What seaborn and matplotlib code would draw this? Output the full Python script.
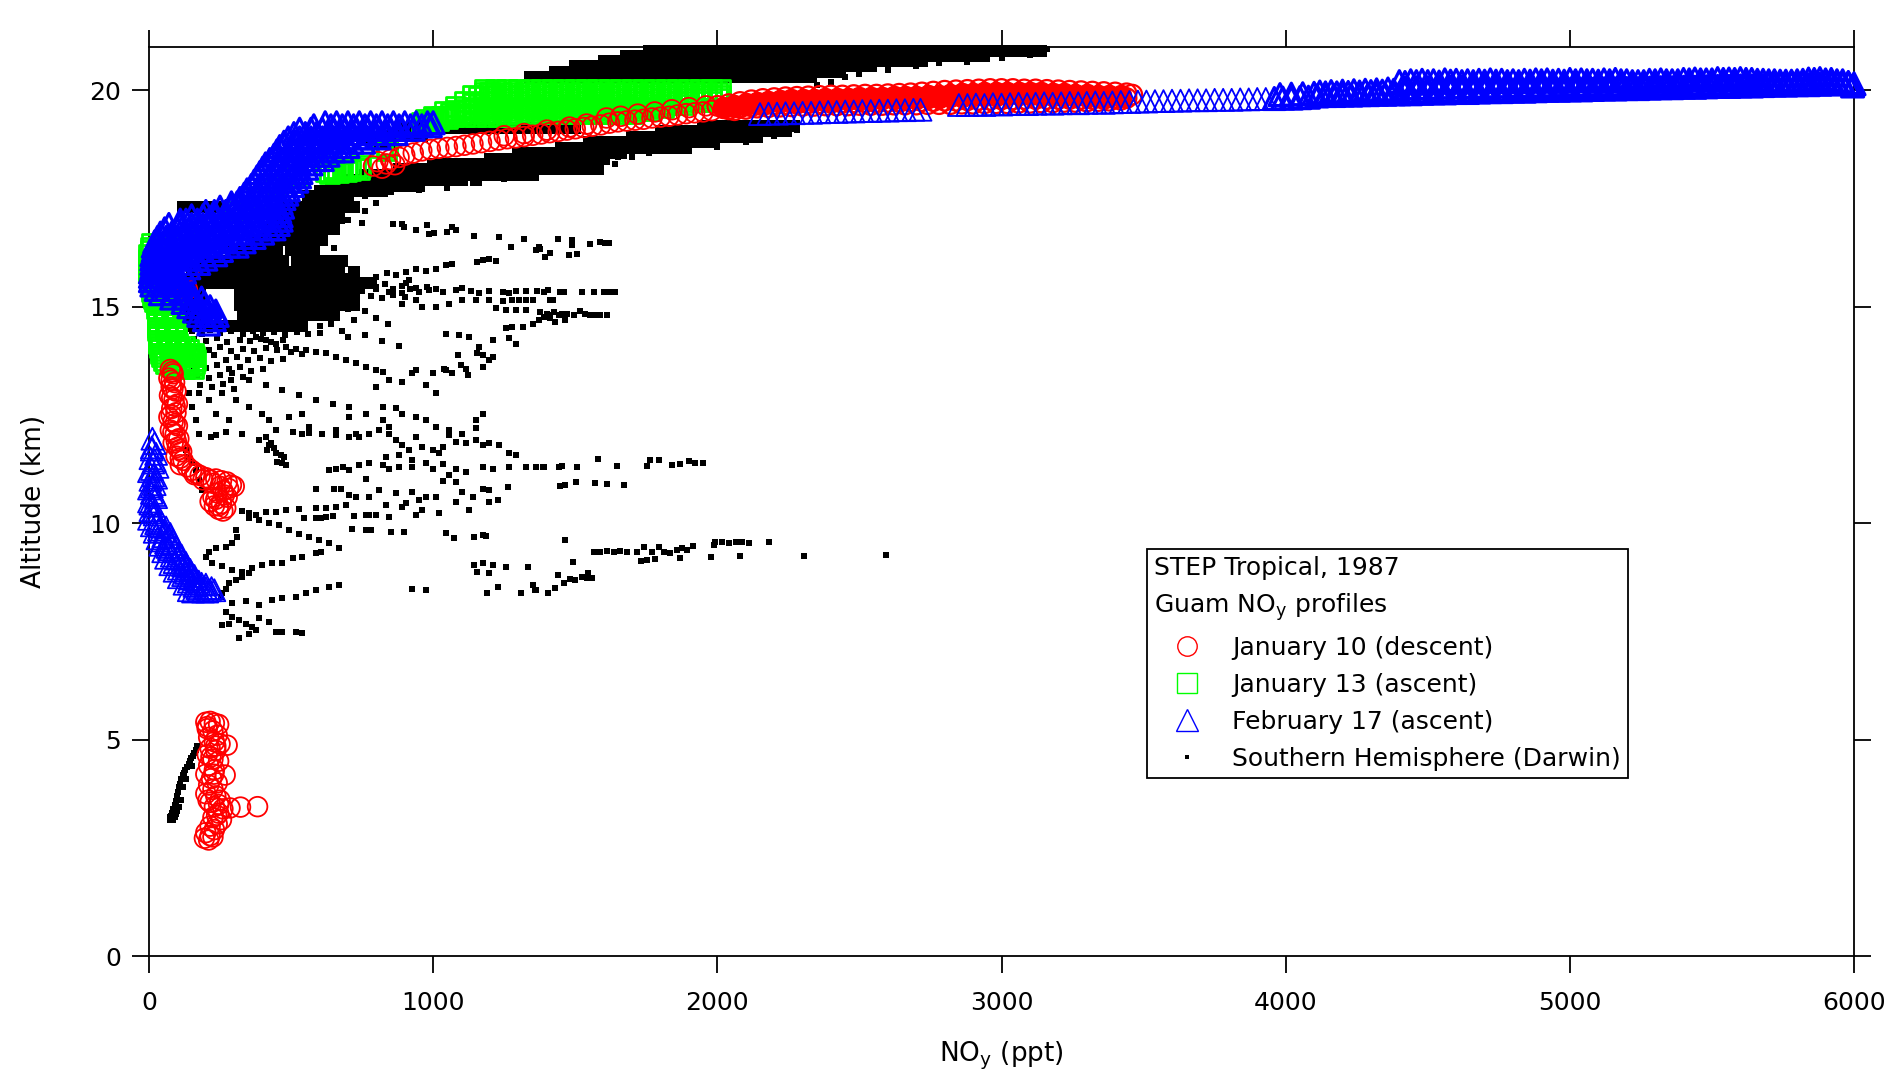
import matplotlib
matplotlib.use("Agg")
import matplotlib.pyplot as plt
from matplotlib.lines import Line2D
import seaborn as sns
import pandas as pd

# ---------------- data (NOy in ppt, altitude in km) ----------------
x_ticks = [0, 1000, 2000, 3000, 4000, 5000, 6000]
y_ticks = [0, 5, 10, 15, 20]
x_label = "NO$_y$ (ppt)"
y_label = "Altitude (km)"
legend_title = "STEP Tropical, 1987\nGuam NO$_y$ profiles"
series_labels = ["January 10 (descent)", "January 13 (ascent)",
                 "February 17 (ascent)", "Southern Hemisphere (Darwin)"]

# January 10 (descent) -- red circles, (NOy, alt) pairs
jan10_upper = [(790,18.25),(805,18.35),(820,18.2),(835,18.3),(850,18.4),(865,18.28),(880,18.45),(900,18.5),
    (930,18.55),(960,18.6),(990,18.63),(1020,18.66),(1050,18.68),(1080,18.7),(1110,18.73),(1140,18.76),
    (1170,18.79),(1200,18.82),(1230,18.85),(1260,18.88),(1290,18.9),(1320,18.93),(1350,18.96),(1380,18.99),
    (1410,19.02),(1440,19.05),(1470,19.08),(1500,19.11),(1530,19.14),(1560,19.17),(1590,19.2),(1620,19.24),
    (1650,19.27),(1680,19.29),(1710,19.31),(1740,19.33),(1770,19.36),(1800,19.38),(1830,19.4),(1860,19.43),
    (1890,19.46),(1920,19.48),(1950,19.5),(1980,19.53),(1610,19.36),(1660,19.4),(1720,19.45),(1780,19.5),
    (1840,19.55),(1900,19.6),(1960,19.64),(1250,18.95),(1320,19.0),(1400,19.08),(1480,19.15),(1540,19.22)]
# band edges (outer rows of the dense 2000-3465 ppt band)
jan10_band_edge = [(2000,19.64),(2040,19.68),(2080,19.73),(2120,19.77),(2160,19.8),(2200,19.82),(2240,19.84),
    (2280,19.85),(2320,19.86),(2360,19.87),(2400,19.88),(2440,19.88),(2480,19.89),(2520,19.9),(2560,19.9),
    (2600,19.91),(2640,19.92),(2680,19.93),(2720,19.95),(2760,19.97),(2800,19.99),(2840,20.0),(2880,20.01),
    (2920,20.02),(2960,20.03),(3000,20.03),(3040,20.03),(3080,20.02),(3120,20.02),(3160,20.01),(3200,20.0),
    (3240,19.99),(3280,19.98),(3320,19.97),(3360,19.96),(3400,19.95),(3440,19.93),(3460,19.9),
    (2040,19.56),(2080,19.6),(2120,19.63),(2160,19.65),(2200,19.67),(2240,19.68),(2280,19.69),(2320,19.7),
    (2360,19.7),(2400,19.71),(2440,19.71),(2480,19.72),(2520,19.72),(2560,19.72),(2600,19.73),(2640,19.73),
    (2680,19.74),(2720,19.75),(2760,19.75),(2800,19.76),(2840,19.76),(2880,19.77),(2920,19.78),(2960,19.78),
    (3000,19.79),(3040,19.79),(3080,19.8),(3120,19.8),(3160,19.8),(3200,19.8),(3240,19.8),(3280,19.8),
    (3320,19.8),(3360,19.8),(3400,19.81),(3440,19.82),
    (2060,19.54),(2100,19.57),(2140,19.6),(2180,19.61),(2220,19.62),(2260,19.63),(2300,19.64),(2340,19.64),
    (2380,19.65),(2420,19.65),(2460,19.65),(2500,19.66),(2540,19.66),(2580,19.66),(2620,19.67),(2660,19.67),
    (2700,19.67),(2740,19.68),(2780,19.68),(2820,19.68),(2860,19.69),(2900,19.69),(2940,19.7),(2980,19.7),
    (3020,19.7),(3060,19.71),(3100,19.71),(3140,19.72),(3180,19.72),(3220,19.73),(3260,19.73),(3300,19.74),
    (3340,19.75),(3380,19.76),(3420,19.78)]
# band core (where the circles overlap into a solid band)
jan10_band_core = [(2020,19.62),(2060,19.65),(2100,19.7),(2140,19.73),(2180,19.76),(2220,19.78),(2260,19.79),
    (2300,19.8),(2340,19.81),(2380,19.82),(2420,19.82),(2460,19.83),(2500,19.84),(2540,19.84),(2580,19.85),
    (2620,19.86),(2660,19.86),(2700,19.87),(2740,19.89),(2780,19.9),(2820,19.92),(2860,19.93),(2900,19.94),
    (2940,19.95),(2980,19.95),(3020,19.96),(3060,19.96),(3100,19.95),(3140,19.95),(3180,19.94),(3220,19.93),
    (3260,19.92),(3300,19.91),(3340,19.9),(3380,19.9),(3420,19.89),
    (2020,19.58),(2060,19.62),(2100,19.66),(2140,19.69),(2180,19.71),(2220,19.73),(2260,19.74),(2300,19.75),
    (2340,19.76),(2380,19.76),(2420,19.77),(2460,19.77),(2500,19.78),(2540,19.78),(2580,19.79),(2620,19.8),
    (2660,19.8),(2700,19.81),(2740,19.82),(2780,19.83),(2820,19.84),(2860,19.85),(2900,19.86),(2940,19.87),
    (2980,19.87),(3020,19.88),(3060,19.88),(3100,19.88),(3140,19.87),(3180,19.87),(3220,19.86),(3260,19.86),
    (3300,19.85),(3340,19.85),(3380,19.85),(3420,19.84)]
jan10_mid = [(140,15.8),(135,15.4),
    (75,13.55),(85,13.45),(70,13.35),(90,13.25),(78,13.15),(95,13.05),(72,12.95),(88,12.85),(100,12.75),
    (80,12.65),(95,12.55),(70,12.45),(85,12.35),(100,12.25),(75,12.15),(92,12.05),(105,11.95),(85,11.85),
    (100,11.75),(115,11.65),(95,11.55),(120,11.45),(110,11.35),(135,11.3),(150,11.22),(165,11.15),(180,11.1),
    (200,11.05),(215,11.0),(235,11.02),(255,10.98),(275,10.95),(290,10.88),(300,10.85),(280,10.8),(260,10.75),
    (240,10.7),(225,10.6),(215,10.5),(230,10.4),(245,10.32),(260,10.28),(270,10.35),(255,10.45),(275,10.6),
    (82,13.5),(78,13.3),(84,13.1),(80,12.9),(92,12.7),(78,12.5),(92,12.3),(84,12.1),(96,11.9),(108,11.7),
    (110,11.5),(160,11.12),(190,11.0),(225,10.92),(250,10.85),(265,10.65),(235,10.55),(245,10.4)]
jan10_low = [(200,5.4),(215,5.42),(230,5.38),(245,5.35),(205,5.25),(225,5.2),(240,5.1),(210,5.05),(230,4.95),
    (250,4.9),(275,4.87),(215,4.8),(235,4.75),(205,4.65),(225,4.55),(245,4.5),(210,4.4),(230,4.3),(200,4.2),
    (220,4.1),(268,4.18),(240,4.0),(210,3.95),(225,3.85),(200,3.75),(235,3.7),(250,3.6),(215,3.55),(230,3.45),
    (260,3.4),(285,3.42),(322,3.44),(382,3.45),(245,3.3),(225,3.2),(255,3.15),(240,3.05),(215,3.0),(230,2.92),
    (200,2.85),(215,2.78),(195,2.72),(210,2.68),(225,2.75),(245,3.5),(205,5.3),(235,4.85),(218,4.6),(228,4.2),
    (208,3.6),(238,3.25)]

# January 13 (ascent) -- green squares; rows are (altitude, [NOy ...])
jan13_lower_rows = [(16.45,[10]),(16.37,[5]),(16.3,[5]),(16.2,[0]),(16.1,[0]),(16.02,[5,15]),(15.95,[0,15]),
    (15.87,[0,20]),(15.8,[0,20]),(15.72,[5,20]),(15.65,[5,25]),(15.57,[5,28]),(15.5,[5,30]),(15.42,[8,32]),
    (15.35,[10,35]),(15.27,[12,38,55]),(15.2,[15,40,60]),(15.12,[20,45,68]),(15.05,[25,50,75]),
    (14.97,[28,52,80]),(14.9,[30,55,85]),(14.82,[30,58,88]),(14.75,[30,60,90]),(14.67,[30,60,90]),
    (14.6,[30,60,90]),(14.52,[30,60,90]),(14.45,[30,60,90]),(14.37,[32,62,92]),(14.3,[35,65,95]),
    (14.22,[35,68,98]),(14.15,[35,70,100]),(14.07,[38,72,105,125]),(14.0,[40,75,110,140]),
    (13.92,[42,78,112,145,155]),(13.85,[45,80,115,150,160]),(13.77,[52,88,122,155,162]),
    (13.7,[60,95,130,160]),(13.64,[75,108,140,158]),(13.58,[90,125,155])]
jan13_mid = [(30,16.15),(60,16.4),(120,16.6),(200,16.9),(300,17.2),(380,17.5),(450,17.8),(520,18.0),
    (600,18.6),(640,18.65),(620,18.12),(650,18.14),(680,18.15),(710,18.16),(740,18.18),(650,18.2),(700,18.22),
    (745,18.25),(635,18.08),(665,18.1),(695,18.12),(725,18.2),(820,18.68),(840,18.72),(835,18.6),
    (960,19.25),(990,19.28),(1020,19.3),(1050,19.35),(1080,19.45),(1110,19.55),(1140,19.7),(1160,19.85),
    (1180,19.95),(1000,19.4),(1040,19.5),(1080,19.62),(1110,19.75),(1140,19.88),(975,19.33),(1010,19.36)]
jan13_band_rows = [
    (20.02,[1180,1220,1260,1300,1340,1380,1420,1460,1500,1540,1580,1620,1660,1700,1740,1780,1820,1860,1900,1940,1980,2010]),
    (19.95,[1200,1240,1280,1320,1360,1400,1440,1480,1520,1560,1600,1640,1680,1720,1760,1800,1840,1880,1920,1960,2000]),
    (19.88,[1180,1220,1260,1300,1340,1380,1420,1460,1500,1540,1580,1620,1660,1700,1740,1780,1820,1860,1900,1940,1980,2010]),
    (19.81,[1200,1240,1280,1320,1360,1400,1440,1480,1520,1560,1600,1640,1680,1720,1760,1800,1840,1880,1920,1960,2000]),
    (19.74,[1180,1220,1260,1300,1340,1380,1420,1460,1500,1540,1580,1620,1660,1700,1740,1780,1820,1860,1900,1940,1980]),
    (19.67,[1160,1200,1240,1280,1320,1360,1400,1440,1480,1520,1560,1600,1640,1680,1720,1760,1800,1840,1880]),
    (19.6,[1140,1180,1220,1250,1290,1330,1370,1410,1450,1490,1530,1570,1610,1650,1690,1730,1770,1810]),
    (19.53,[1080,1120,1160,1200,1240,1280,1320,1360,1400,1440,1480,1520,1560,1600,1640,1680,1720,1760]),
    (19.47,[1060,1100,1140,1180,1220,1260,1300,1340,1380,1420,1460,1500,1540,1580,1620,1660,1700]),
    (19.4,[1030,1070,1110,1150,1190,1230,1270])]

# February 17 (ascent) -- blue triangles
feb17_lower = [(20,11.85),(12,11.95),(10,11.7),(25,11.6),(5,11.5),(15,11.4),(30,11.3),(0,11.2),(15,11.1),
    (5,11.0),(20,10.9),(0,10.8),(10,10.7),(25,10.6),(0,10.5),(15,10.4),(5,10.3),(20,10.2),(0,10.1),(30,10.05),
    (45,10.0),(10,9.95),(60,9.9),(35,9.85),(20,9.8),(75,9.75),(50,9.7),(30,9.65),(85,9.6),(60,9.55),(40,9.5),
    (95,9.45),(70,9.4),(50,9.35),(105,9.3),(80,9.25),(60,9.2),(120,9.15),(90,9.1),(75,9.05),(135,9.0),
    (105,8.95),(90,8.9),(150,8.85),(120,8.8),(105,8.75),(165,8.7),(140,8.65),(125,8.6),(185,8.6),(160,8.55),
    (200,8.5),(140,8.45),(175,8.45),(215,8.45),(155,8.42),(190,8.42),(230,8.45),
    (10,11.75),(20,11.45),(10,11.25),(25,11.05),(10,10.85),(20,10.65),(5,10.45),(15,10.25),(25,10.0),
    (40,9.92),(55,9.8),(70,9.68),(45,9.6),(80,9.52),(65,9.45),(90,9.38),(115,9.25),(100,9.18),(130,9.08),
    (120,9.02),(145,8.92),(130,8.85),(160,8.78),(145,8.72),(175,8.65),(200,8.58),(220,8.5),(170,8.5),(205,8.42)]
feb17_upper_rows = [(14.6,[210]),(14.7,[195,230]),(14.8,[175,215,240]),(14.9,[160,200,235]),
    (15.0,[140,180,215]),(15.1,[120,160,195]),(15.2,[80,120,160,185]),(15.3,[40,80,120,150]),
    (15.4,[25,60,100,130]),(15.5,[10,45,80,110]),(15.6,[5,25,60,95,115]),(15.7,[5,40,75,100]),
    (15.8,[5,25,60,95,125]),(15.9,[10,45,80,115,140]),(16.0,[10,30,70,110,150,175]),
    (16.1,[10,50,90,130,170,200]),(16.2,[10,35,75,115,155,195,235]),(16.3,[15,55,95,135,175,215,255]),
    (16.4,[15,40,80,120,160,200,240,280,310]),(16.5,[20,60,100,140,180,220,260,300,335]),
    (16.6,[30,60,100,140,180,220,260,300,340,370]),(16.7,[40,80,120,160,200,240,280,320,360,400]),
    (16.8,[55,100,140,180,220,260,300,340,380,420,440]),(16.9,[70,110,150,190,230,270,310,350,390,430,455]),
    (17.0,[110,130,170,210,250,290,330,370,410,450,465]),(17.1,[150,190,230,270,310,350,390,430,465]),
    (17.2,[200,230,270,310,350,390,430,460]),(17.3,[250,290,330,370,410,440,470]),
    (17.4,[290,310,350,390,430,465]),(17.5,[320,360,400,440,475]),(17.6,[335,375,415,455,485]),
    (17.7,[345,385,425,460,490]),(17.8,[360,395,435,475,505]),(17.9,[370,410,450,490,520]),
    (18.0,[380,420,460,500,530]),(18.1,[390,430,470,510,535]),(18.2,[400,440,480,520,555]),
    (18.3,[410,450,490,530,570]),(18.4,[425,465,505,545,585,610]),(18.5,[440,480,520,560,600,630]),
    (18.6,[450,490,530,570,610,650,680]),(18.7,[460,500,540,580,620,660,700]),
    (18.8,[475,515,555,595,635,675,715,755]),(18.9,[490,530,570,610,650,690,730,770,810]),
    (19.0,[510,550,590,630,670,710,750,790,830,870]),(19.1,[530,570,610,650,690,730,770,810,850,890,930]),
    (19.18,[580,640,680,720,760,800,840,880,920,960,990]),
    (19.25,[620,660,700,740,780,820,860,900,940,980,1000])]
feb17_band_mid = [(2150,19.45),(2180,19.46),(2210,19.46),(2240,19.47),(2270,19.47),(2300,19.48),(2330,19.48),
    (2360,19.49),(2390,19.5),(2420,19.5),(2450,19.51),(2480,19.51),(2510,19.52),(2540,19.52),(2570,19.53),
    (2600,19.53),(2630,19.54),(2660,19.54),(2690,19.55),(2715,19.55),
    (2850,19.66),(2880,19.66),(2910,19.67),(2940,19.66),(2970,19.68),(3000,19.67),(3030,19.68),(3060,19.69),
    (3090,19.68),(3120,19.69),(3150,19.7),(3180,19.69),(3210,19.7),(3240,19.71),(3270,19.7),(3300,19.71),
    (3330,19.72),(3360,19.71),(3390,19.72),(3420,19.73),
    (3450,19.73),(3480,19.74),(3510,19.74),(3540,19.75),(3570,19.75),(3600,19.76),(3630,19.76),(3660,19.77),
    (3690,19.77),(3720,19.77),(3750,19.78),(3780,19.78),(3810,19.78),(3840,19.79),(3870,19.79),(3900,19.8),
    (3930,19.8)]
feb17_band_top = [(3960,19.81),(3990,19.82),(4020,19.82),(4050,19.83),(4080,19.84),
    (4110,19.87),(4140,19.88),(4170,19.88),(4200,19.89),(4230,19.89),(4260,19.9),(4290,19.9),(4320,19.91),
    (4350,19.91),(4380,19.92),(4120,19.96),(4160,19.97),(4200,19.98),(4240,19.99),(4280,20.0),(4320,20.01),
    (4360,20.03),(3980,19.9),(4020,19.91),(4060,19.92),(4100,19.93),(4140,19.94),(4180,19.94),(4220,19.95),
    (4260,19.96),(4300,19.97),(4340,19.98),(4380,20.0),
    (4400,20.2),(4440,20.22),(4480,20.23),(4520,20.22),(4560,20.24),(4600,20.23),(4640,20.22),(4680,20.23),
    (4720,20.24),(4760,20.23),(4800,20.22),(4840,20.23),(4880,20.24),(4920,20.24),(4960,20.23),(5000,20.25),
    (5040,20.24),(5080,20.23),(5120,20.24),(5160,20.25),(5200,20.22),(5240,20.2),(5280,20.23),(5320,20.24),
    (5360,20.22),(5400,20.25),(5440,20.26),(5480,20.24),(5520,20.27),(5560,20.26),(5600,20.27),(5640,20.25),
    (5680,20.23),(5720,20.22),(5760,20.21),(5800,20.22),(5840,20.26),(5880,20.27),(5920,20.25),(5960,20.22),
    (5995,20.1),
    (4420,20.18),(4460,20.2),(4500,20.2),(4540,20.19),(4580,20.21),(4620,20.2),(4660,20.2),(4700,20.21),
    (4740,20.21),(4780,20.2),(4820,20.2),(4860,20.21),(4900,20.22),(4940,20.21),(4980,20.21),(5020,20.22),
    (5060,20.22),(5100,20.21),(5140,20.22),(5180,20.22),(5220,20.2),(5260,20.2),(5300,20.22),(5340,20.22),
    (5380,20.22),(5420,20.24),(5460,20.24),(5500,20.24),(5540,20.25),(5580,20.25),(5620,20.25),(5660,20.23),
    (5700,20.22),(5740,20.21),(5780,20.21),(5820,20.23),(5860,20.25),(5900,20.24),(5940,20.22),(5980,20.18),
    (4420,20.05),(4460,20.06),(4500,20.06),(4540,20.07),(4580,20.08),(4620,20.08),(4660,20.09),(4700,20.09),
    (4740,20.1),(4780,20.1),(4820,20.11),(4860,20.11),(4900,20.12),(4940,20.12),(4980,20.13),(5020,20.13),
    (5060,20.13),(5100,20.14),(5140,20.14),(5180,20.14),(5220,20.13),(5260,20.14),(5300,20.15),(5340,20.15),
    (5380,20.16),(5420,20.16),(5460,20.16),(5500,20.17),(5540,20.17),(5580,20.17),(5620,20.18),(5660,20.17),
    (5700,20.17),(5740,20.17),(5780,20.18),(5820,20.18),(5860,20.19),(5900,20.19),(5940,20.18),(5980,20.17),
    (4420,19.97),(4460,19.98),(4500,19.98),(4540,19.99),(4580,20.0),(4620,20.0),(4660,20.01),(4700,20.02),
    (4740,20.02),(4780,20.03),(4820,20.04),(4860,20.04),(4900,20.05),(4940,20.06),(4980,20.06),(5020,20.07),
    (5060,20.07),(5100,20.08),(5140,20.08),(5180,20.09),(5220,20.09),(5260,20.1),(5300,20.1),(5340,20.11),
    (5380,20.11),(5420,20.12),(5460,20.12),(5500,20.13),(5540,20.13),(5580,20.14),(5620,20.14),(5660,20.14),
    (5700,20.15),(5740,20.15),(5780,20.16),(5820,20.16),(5860,20.17),(5900,20.17),(5940,20.17),(5980,20.16),
    (4400,19.92),(4440,19.92),(4480,19.93),(4520,19.94),(4560,19.94),(4600,19.95),(4640,19.95),(4680,19.96),
    (4720,19.97),(4760,19.97),(4800,19.98),(4840,19.98),(4880,19.99),(4920,20.0),(4960,20.0),(5000,20.01),
    (5040,20.01),(5080,20.02),(5120,20.03),(5160,20.03),(5200,20.04),(5240,20.04),(5280,20.05),(5320,20.06),
    (5360,20.06),(5400,20.07),(5440,20.07),(5480,20.08),(5520,20.09),(5560,20.09),(5600,20.1),(5640,20.1),
    (5680,20.11),(5720,20.12),(5760,20.12),(5800,20.13),(5840,20.13),(5880,20.14),(5920,20.15),(5960,20.15),
    (6000,20.15)]

# Southern Hemisphere (Darwin) -- black dots; dense parts as rows (altitude, [NOy ...])
darwin_dense_rows = [
    (17.3,[120,160,200,240,480,520,560,600,640,680,720]),(17.05,[470,510,550,590,630,670]),
    (16.8,[420,460,500,540,580,620,650]),
    (16.55,[370,410,450,490,530,570,610]),(16.3,[290,330,370,410,450,500,540,580]),
    (16.05,[190,230,270,310,350,390,430,470,520,560,600,640,680]),
    (15.8,[150,190,230,270,310,350,390,430,470,510,550,590,630,670,720]),
    (15.55,[140,180,220,260,300,340,380,420,460,500,540,580,620,660,700,740,780]),
    (15.3,[140,180,320,360,400,440,480,520,560,600,640,680,720]),
    (15.05,[140,180,320,360,400,440,480,520,560,600,640,680,720]),
    (14.8,[150,190,330,370,410,450,490,530,570,610,650]),
    (14.55,[140,180,220,260,300,340,380,420,460,500,540]),
    (17.55,[560,600,640,680,700]),(17.67,[600,640,680,720,760,800,820]),
    (17.8,[640,680,720,760,800,840,880,920,950]),
    (17.92,[700,740,780,820,860,900,940,980,1020,1060,1100,1150]),
    (18.05,[760,800,840,880,920,960,1000,1040,1080,1120,1160,1200,1240,1280,1320,1350]),
    (18.17,[880,920,960,1000,1040,1080,1120,1160,1200,1240,1280,1320,1360,1400,1440,1480,1520,1560,1580]),
    (18.3,[1000,1040,1080,1120,1160,1200,1240,1280,1320,1360,1400,1440,1480,1520,1560]),
    (18.42,[1200,1240,1280,1320,1360,1400,1440,1480,1520,1560,1600]),
    (18.55,[1300,1340,1380,1420,1460,1500,1540,1580,1620,1660]),
    (18.67,[1450,1490,1530,1570,1610,1650,1690,1730,1770,1810,1850,1890]),
    (18.8,[1550,1590,1630,1670,1710,1750,1790,1830,1870,1910,1950,1990]),
    (18.92,[1700,1740,1780,1820,1860,1900,1940,1980,2020,2060,2100,2140]),
    (19.05,[1800,1840,1880,1920,1960,2000,2040,2080,2120,2160,2200,2240]),
    (19.17,[1950,1990,2030,2070,2110,2150,2190,2230,2270]),
    (18.75,[780,820,860]),(18.95,[840,880,920,960]),
    (19.12,[900,940,980,1020,1060,1100,1140,1180,1220,1260,1300,1340,1380,1420,1460,1500]),
    (20.3,[1340,1380,1420,1460,1500,1540,1580,1620,1660,1700,1740,1780,1820,1860,1900,1940,1980,2020,2060,
           2100,2140,2180,2220,2260,2300,2330]),
    (20.42,[1430,1470,1510,1550,1590,1630,1670,1710,1750,1790,1830,1870,1910,1950,1990,2030,2070,2110,2150,
            2190,2230,2270,2310,2350,2390,2430]),
    (20.55,[1500,1540,1580,1620,1660,1700,1740,1780,1820,1860,1900,1940,1980,2020,2060,2100,2140,2180,2220,
            2260,2300,2340,2380,2420,2460,2500,2540]),
    (20.67,[1600,1640,1680,1720,1760,1800,1840,1880,1920,1960,2000,2040,2080,2120,2160,2200,2240,2280,2320,
            2360,2400,2440,2480,2520,2560,2600,2640,2680,2720]),
    (20.8,[1680,1720,1760,1800,1840,1880,1920,1960,2000,2040,2080,2120,2160,2200,2240,2280,2320,2360,2400,
           2440,2480,2520,2560,2600,2640,2680,2720,2760,2800,2840,2880,2920,2940]),
    (20.9,[1760,1800,1840,1880,1920,1960,2000,2040,2080,2120,2160,2200,2240,2280,2320,2360,2400,2440,2480,
           2520,2560,2600,2640,2680,2720,2760,2800,2840,2880,2920,2960,3000,3040,3080,3120,3140])]
darwin_mid = [(150,14.45),(185,14.38),(215,14.47),(250,14.4),(290,14.43),(330,14.36),(365,14.44),(400,14.39),
    (440,14.41),(480,14.35),(520,14.42),(560,14.37),(600,14.4),(160,14.25),(200,14.2),(240,14.27),(275,14.18),
    (320,14.24),(355,14.2),(395,14.26),(430,14.19),(470,14.22),(170,14.05),(210,14.0),(250,14.08),(290,13.98),
    (330,14.03),(370,13.97),(410,14.05),(450,14.0),(500,13.95),(540,13.9),(150,13.85),(190,13.8),(230,13.88),
    (270,13.78),(310,13.84),(350,13.76),(390,13.82),(430,13.74),(470,13.8),(160,13.62),(200,13.58),(240,13.66),
    (280,13.55),(320,13.6),(360,13.52),(400,13.57),(170,13.4),(210,13.35),(250,13.42),(290,13.3),(330,13.37),
    (180,13.2),(220,13.15),(260,13.22),(300,13.1),
    (770,15.5),(800,15.45),(830,15.52),(860,15.4),(890,15.48),(920,15.42),(950,15.35),(980,15.45),(1010,15.4),
    (780,15.25),(820,15.2),(860,15.28),(900,15.22),(760,15.62),(800,15.68),(700,15.7),(680,15.2),(720,15.1),
    (700,14.95),(660,14.85),(640,14.6),(600,14.55),(680,14.45),(720,14.7),(760,14.9),(800,14.75),(840,14.6),
    (700,14.3),(760,14.35),(820,14.2),(880,14.1),(650,16.35),(620,16.55),(660,16.8),(700,17.0),(760,17.2),
    (800,17.4),(560,16.25),(600,15.95),(680,15.9),(2350,20.12),(2400,20.2),(2450,20.3),(2500,20.38),
    (2600,20.48),(2700,20.55),(2780,20.62),(2880,20.66),(3000,20.75),(3100,20.82),(3160,20.95),
    (1640,18.3),(1700,18.45),(1760,18.55),(2000,18.7),(2100,18.8),(2200,18.95),(2280,19.08)]
darwin_sparse = [(1377,16.34),(1395,16.15),(1412,16.24),(1438,16.56),(1477,16.19),(1488,16.54),(1488,16.42),
    (1506,16.21),(1553,16.44),(1586,16.5),(1606,16.48),(1618,16.47),(1389,15.34),(1447,15.35),(1459,15.33),
    (1524,15.34),(1565,15.33),(1600,15.34),(1612,15.34),(1629,15.35),(1641,15.34),(1412,15.15),(1422,15.15),
    (1377,14.88),(1389,14.77),(1400,14.84),(1412,14.73),(1424,14.88),(1430,14.65),(1442,14.8),(1453,14.84),
    (1465,14.69),(1471,14.84),(1494,14.8),(1518,14.9),(1535,14.84),(1553,14.82),(1571,14.8),(1588,14.8),
    (1612,14.81),(1389,11.3),(1442,11.3),(1453,11.32),(1506,11.3),(1579,11.49),(1647,11.32),(1753,11.33),
    (1762,11.47),(1794,11.45),(1841,11.34),(1870,11.36),(1899,11.43),(1923,11.38),(1950,11.4),(1447,10.86),
    (1465,10.88),(1503,10.95),(1571,10.93),(1612,10.9),(1673,10.88),(1465,9.62),(1565,9.34),(1588,9.34),
    (1612,9.35),(1635,9.34),(1659,9.35),(1682,9.34),(1717,9.33),(1743,9.45),(1770,9.34),(1794,9.45),(1811,9.34),
    (1835,9.31),(1858,9.39),(1876,9.42),(1893,9.39),(1915,9.48),(1987,9.49),(1993,9.56),(2017,9.57),(2040,9.55),
    (2064,9.56),(2087,9.56),(2111,9.55),(2181,9.56),(2304,9.24),(2595,9.26),(2079,9.24),(1979,9.22),(1870,9.2),
    (1731,9.12),(1752,9.14),(1782,9.18),(1492,9.11),(1438,8.8),(1524,8.76),(1541,8.74),(1559,8.74),
    (1430,8.5),(1460,8.62),(1480,8.7),(1500,8.68),(1545,8.85),(1360,8.45),
    (751,16.94),(857,16.92),(892,16.91),(898,16.84),(939,16.78),(980,16.88),(986,16.69),(1004,16.71),
    (1050,16.73),(1068,16.84),(1080,16.78),(1144,16.63),(1230,16.6),(1273,16.37),(1320,16.57),(1362,16.31),
    (1373,16.38),(1156,16.04),(1174,16.07),(1197,16.11),(1221,16.06),(1009,15.88),(1045,15.96),(1068,15.98),
    (939,15.88),(974,15.83),(904,15.8),(869,15.73),(839,15.77),(915,15.61),(904,15.54),(704,15.42),(751,15.37),
    (798,15.4),(845,15.34),(892,15.32),(939,15.44),(986,15.38),(1033,15.34),(1080,15.38),(1103,15.44),
    (1133,15.37),(1162,15.32),(1197,15.37),(1244,15.34),(1268,15.32),(1291,15.37),(1326,15.37),(1367,15.37),
    (1403,15.38),(1197,15.15),(1244,15.13),(1279,15.15),(1303,15.15),(1326,15.15),(1350,15.15),(1221,14.96),
    (1256,14.93),(1291,14.92),(1326,14.92),(1150,15.15),(1103,15.15),(1056,15.07),(1009,15.0),(962,15.0),
    (939,15.15),(892,15.07),(1403,14.8),(1373,14.69),(1350,14.61),(1315,14.53),(1279,14.53),(1256,14.5),
    (1268,14.27),(1291,14.15),(1209,14.23),(1162,14.07),(1156,13.92),(1174,13.88),(1197,13.76),(1209,13.84),
    (1045,14.38),(1092,14.34),(1127,14.3),(1086,13.88),(1097,13.65),(1115,13.57),(1045,13.53),(939,13.53),
    (998,13.46),(1039,13.57),(1068,13.46),(1121,13.42),(1174,13.61),(798,13.15),(845,13.3),(892,13.26),
    (927,13.46),(974,13.19),(1009,13.0),(822,12.69),(869,12.65),(892,12.53),(939,12.46),(974,12.38),
    (1009,12.23),(1056,12.15),(1103,12.07),(1150,12.19),(822,12.38),(845,12.23),(810,12.15),(775,12.07),
    (1150,12.38),(1174,12.53),
    (376,14.3),(411,14.23),(446,14.15),(481,14.07),(516,14.03),(552,14.0),(587,13.96),(622,13.92),(657,13.84),
    (692,13.76),(728,13.69),(763,13.61),(798,13.53),(822,13.5),(293,13.46),(352,13.3),(411,13.19),(469,13.07),
    (528,12.96),(587,12.84),(646,12.76),(704,12.69),(763,12.53),(258,13.0),(305,12.84),(352,12.69),(399,12.53),
    (423,12.38),(446,12.15),(493,12.46),(540,12.53),(563,12.23),(610,12.07),(657,12.15),(704,12.46),(728,12.07),
    (282,12.38),(329,12.07),(235,12.53),(211,12.84),(176,13.0),(141,13.0),(153,12.69),(164,12.38),(176,12.07),
    (590,16.09),(610,16.09),(630,16.1),(650,16.09),(670,16.08),(690,16.09),
    (129,11.69),(141,11.53),(153,11.38),(164,11.23),(176,11.0),(188,10.76),(217,11.99),(235,12.03),(270,12.11),
    (387,11.92),(411,11.99),(423,11.8),(440,11.73),(446,11.61),(464,11.57),(475,11.53),(452,11.42),(469,11.38),
    (481,11.34),(417,11.69),(428,11.84),(505,12.11),(540,12.07),(563,12.09),(610,12.06),(657,12.03),(704,11.99),
    (739,11.99),(845,12.07),(869,11.92),(892,11.8),(915,11.69),(939,11.99),(962,11.76),(998,11.69),(1021,11.61),
    (1056,12.03),(1080,11.88),(1115,11.84),(1150,11.92),(1174,11.8),(1197,11.84),(1232,11.8),(1268,11.61),
    (1291,11.57),(833,11.53),(880,11.57),(927,11.46),(1033,11.76),(634,11.23),(657,11.26),(681,11.3),(704,11.23),
    (739,11.34),(775,11.38),(822,11.34),(845,11.26),(880,11.29),(927,11.29),(974,11.38),(998,11.26),
    (1033,11.36),(1080,11.26),(1115,11.19),(1174,11.29),(1209,11.26),(1268,11.29),(1326,11.29),(1362,11.29),
    (1385,11.29),(587,10.8),(651,10.8),(675,10.78),(704,10.65),(728,10.61),(763,11.03),(775,10.61),(810,10.76),
    (833,10.42),(869,10.69),(904,10.46),(927,10.73),(951,10.53),(974,10.61),(1009,10.61),(1033,10.97),
    (1056,11.11),(1080,10.96),(1103,10.73),(1139,10.61),(1174,10.8),(1197,10.76),(1227,10.53),(1262,10.84),
    (1197,10.5),(1127,10.3),(1080,10.5),(1021,10.23),(962,10.3),(939,10.19),(892,10.38),(845,10.15),(798,10.19),
    (763,10.19),(329,10.29),(352,10.23),(376,10.19),(411,10.26),(446,10.26),(481,10.3),(528,10.32),(587,10.34),
    (622,10.36),(657,10.38),(692,10.42),(352,10.11),(387,10.07),(423,10.0),(458,9.96),(493,9.84),(528,9.76),
    (563,9.69),(599,9.61),(634,9.53),(669,9.42),(305,9.84),(311,9.69),(293,9.53),(270,9.46),(235,9.42),
    (211,9.34),(200,9.22),(223,9.07),(258,9.0),(293,8.92),(329,8.88),(364,8.96),(399,9.03),(434,9.07),
    (469,9.07),(505,9.19),(540,9.22),(587,9.3),(604,9.34),(352,8.84),(329,8.76),(305,8.69),(282,8.61),
    (270,8.49),(258,8.38),(252,8.3),(293,8.15),(340,8.19),(387,8.11),(434,8.22),(469,8.26),(516,8.3),
    (552,8.38),(587,8.45),(634,8.53),(669,8.57),(270,7.95),(293,7.84),(317,7.76),(340,7.68),(364,7.61),
    (352,7.45),(317,7.34),(387,7.8),(423,7.72),(446,7.49),(469,7.49),(516,7.49),(540,7.47),(282,7.68),
    (258,7.65),(376,7.53),(1144,9.03),(1156,8.88),(1174,9.07),(1197,8.84),(1209,9.03),(1256,8.99),(1332,8.99),
    (927,8.49),(974,8.45),(1191,8.38),(1227,8.53),(1309,8.38),(1350,8.57),(1362,8.45),(1403,8.39),(716,9.86),
    (763,9.84),(781,9.84),(851,9.8),(898,9.8),(1045,9.78),(1074,9.65),(1144,9.67),(1174,9.72),(1185,9.7),
    (546,10.11),(587,10.13),(604,10.13),(622,10.15),(646,10.16),(722,10.16),(775,10.19),
    (165,4.77),(160,4.7),(155,4.62),(149,4.57),(145,4.5),(140,4.43),(134,4.37),(128,4.3),(122,4.23),(118,4.18),
    (114,4.1),(110,3.98),(106,3.9),(102,3.78),(98,3.7),(94,3.58),(90,3.5),(86,3.39),(82,3.3),(79,3.24),
    (74,3.14),(90,3.2),(100,3.35),(112,3.6),(120,3.9),(130,4.1),(105,3.45),(95,3.28),(150,4.4),(170,4.85),
    (75,3.2),(85,3.15),
    (1420,18.45),(1480,18.4),(1550,18.35),(1600,18.5),(1650,18.45),(1700,18.55),(1750,18.6),(1800,18.65),
    (1430,18.2),(1350,18.15),(1250,17.95),(1150,17.85),(1050,17.75),(950,17.7),(850,17.65),(760,17.55),
    (700,17.45),(660,17.35),(620,17.2),(580,17.1),(540,16.95),(500,16.8)]


# ---------------- helpers ----------------
def from_pairs(*lists):
    pts = [p for lst in lists for p in lst]
    return pd.DataFrame({"noy": [p[0] for p in pts], "alt": [p[1] for p in pts]})


def from_rows(rows):
    pts = [(v, a) for a, vals in rows for v in vals]
    return pd.DataFrame({"noy": [p[0] for p in pts], "alt": [p[1] for p in pts]})


red_sparse_df = from_pairs(jan10_low, jan10_mid, jan10_upper)
red_edge_df = from_pairs(jan10_band_edge)
red_core_df = from_pairs(jan10_band_core)
green_df = pd.concat([from_rows(jan13_lower_rows), from_pairs(jan13_mid), from_rows(jan13_band_rows)])
blue_sparse_df = from_pairs(feb17_lower, feb17_band_mid)
blue_dense_df = pd.concat([from_rows(feb17_upper_rows), from_pairs(feb17_band_top)])
black_dense_df = from_rows(darwin_dense_rows)
black_mid_df = from_pairs(darwin_mid)
black_sparse_df = from_pairs(darwin_sparse)

# ---------------- styling ----------------
sns.set_style("ticks", rc={"axes.edgecolor": "black", "xtick.color": "black", "ytick.color": "black",
                           "text.color": "black", "axes.labelcolor": "black"})
plt.rcParams["font.family"] = ["DejaVu Sans"]
plt.rcParams["mathtext.default"] = "regular"

W, H = 1884, 1069
fig = plt.figure(figsize=(W / 100, H / 100), dpi=100)
ax_l, ax_r, ax_t, ax_b = 149, 1854, 47, 956
ax = fig.add_axes([ax_l / W, 1 - ax_b / H, (ax_r - ax_l) / W, (ax_b - ax_t) / H])

RED, GREEN, BLUE = "#ff0000", "#00ff00", "#0000ff"
common = dict(ax=ax, x="noy", y="alt", legend=False, clip_on=False)

sns.scatterplot(data=black_dense_df, marker="s", s=80, color="black", linewidth=0, zorder=2, **common)
sns.scatterplot(data=black_mid_df, marker="s", s=24, color="black", linewidth=0, zorder=2, **common)
sns.scatterplot(data=black_sparse_df, marker="s", s=13, color="black", linewidth=0, zorder=2, **common)
sns.scatterplot(data=green_df, marker="s", s=190, facecolors="none", edgecolor=GREEN, linewidth=2.0,
                zorder=3, **common)
sns.scatterplot(data=red_sparse_df, marker="o", s=200, facecolors="none", edgecolor=RED, linewidth=1.3,
                zorder=4, **common)
sns.scatterplot(data=red_core_df, marker="o", s=200, facecolors=RED, edgecolor=RED, linewidth=1.3,
                zorder=4, **common)
sns.scatterplot(data=red_edge_df, marker="o", s=200, facecolors="none", edgecolor=RED, linewidth=1.6,
                zorder=4, **common)
sns.scatterplot(data=blue_sparse_df, marker="^", s=250, facecolors="none", edgecolor=BLUE, linewidth=1.3,
                zorder=5, **common)
sns.scatterplot(data=blue_dense_df, marker="^", s=250, facecolors="none", edgecolor=BLUE, linewidth=2.3,
                zorder=5, **common)

ax.set_xlim(0, 6000)
ax.set_ylim(0, 21)
ax.set_xticks(x_ticks)
ax.set_xticklabels([str(t) for t in x_ticks])
ax.set_yticks(y_ticks)
ax.set_yticklabels([str(t) for t in y_ticks])
ax.tick_params(axis="both", which="major", direction="out", length=12, width=1.3,
               top=True, right=True, labeltop=False, labelright=False, labelsize=18)
ax.tick_params(axis="x", pad=13)
ax.tick_params(axis="y", pad=8)
for sp in ax.spines.values():
    sp.set_visible(True)
    sp.set_linewidth(1.3)
    sp.set_color("black")

ax.set_xlabel(x_label, fontsize=19)
ax.set_ylabel(y_label, fontsize=19)
ax.xaxis.set_label_coords(0.5, (ax_b - 1040) / (ax_b - ax_t))
ax.yaxis.set_label_coords((47 - ax_l) / (ax_r - ax_l), 0.5)

handles = [
    Line2D([], [], marker="o", ls="none", mfc="none", mec=RED, ms=14, mew=1.0),
    Line2D([], [], marker="s", ls="none", mfc="none", mec=GREEN, ms=14, mew=1.0),
    Line2D([], [], marker="^", ls="none", mfc="none", mec=BLUE, ms=16, mew=1.0),
    Line2D([], [], marker="s", ls="none", mfc="black", mec="black", ms=2.5, mew=0),
]
leg = ax.legend(handles, series_labels, title=legend_title, loc="upper left",
                bbox_to_anchor=(1147 / W, 1 - 549 / H), bbox_transform=fig.transFigure,
                frameon=True, fancybox=False, edgecolor="black", framealpha=1, fontsize=18,
                title_fontsize=18, alignment="left", borderpad=0.3, handlelength=2.6,
                handletextpad=0.5, labelspacing=0.52, borderaxespad=0)
leg.get_frame().set_linewidth(1.3)
leg.get_title().set_linespacing(1.5)
leg.set_zorder(10)

fig.savefig("out.png", dpi=100)
